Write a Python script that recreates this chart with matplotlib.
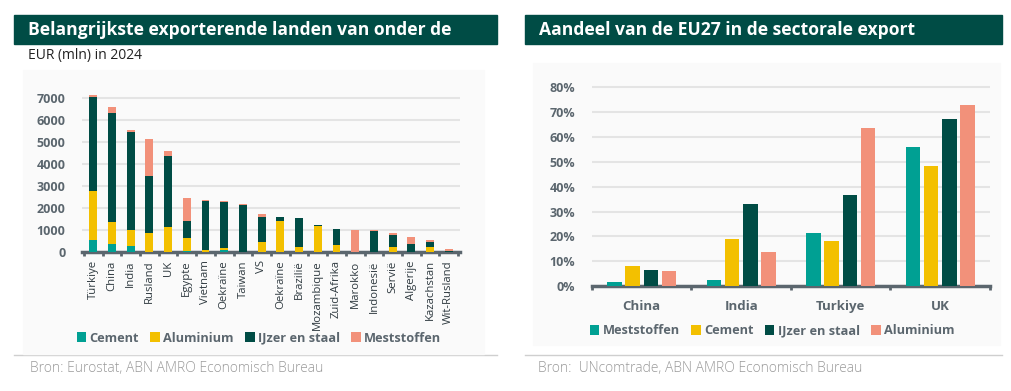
import numpy as np
import matplotlib.pyplot as plt
from matplotlib.patches import Rectangle
from matplotlib.lines import Line2D

# Left chart: export by country, EUR mln 2024
landen = ['Türkiye', 'China', 'India', 'Rusland', 'UK', 'Egypte', 'Vietnam',
          'Oekraïne', 'Taiwan', 'VS', 'Oekraïne', 'Brazilië', 'Mozambique',
          'Zuid-Afrika', 'Marokko', 'Indonesië', 'Servië', 'Algerije',
          'Kazachstan', 'Wit-Rusland']
cement = [550, 350, 250, 20, 20, 30, 0, 80, 0, 20, 0, 20, 0, 20, 0, 0, 20, 20, 20, 0]
aluminium = [2200, 1020, 750, 830, 1100, 610, 80, 100, 0, 450, 1400, 200, 1180, 280, 0, 0, 190, 0, 220, 0]
ijzer = [4300, 4950, 4470, 2600, 3250, 770, 2250, 2100, 2150, 1100, 180, 1320, 30, 730, 0, 960, 560, 330, 230, 50]
meststoffen = [100, 250, 50, 1680, 200, 1030, 30, 30, 20, 170, 20, 20, 0, 20, 1000, 20, 110, 320, 70, 80]

# Right chart: share of EU27 in sector exports
landen2 = ['China', 'India', 'Turkiye', 'UK']
sectoren2 = ['Meststoffen', 'Cement', 'IJzer en staal', 'Aluminium']
aandeel = {
    'Meststoffen': [0.017, 0.023, 0.214, 0.562],
    'Cement': [0.080, 0.190, 0.180, 0.485],
    'IJzer en staal': [0.063, 0.330, 0.367, 0.672],
    'Aluminium': [0.062, 0.138, 0.638, 0.731],
}

TEAL = '#00a093'
YELLOW = '#f3c000'
DARK = '#004c45'
SALMON = '#f2917a'
GREY = '#5b666e'
GRID = '#e4e4e4'
BG = '#fafafa'

plt.rcParams['font.family'] = ['Open Sans', 'DejaVu Sans']

W, H = 1012, 391
fig = plt.figure(figsize=(W / 100, H / 100), dpi=100)


def fx(px):
    return px / W


def fy(py):
    return 1 - py / H


# title bars, background panels, footer lines
for x0, x1, title in [(14, 497, 'Belangrijkste exporterende landen van onder de'),
                      (525, 1002, 'Aandeel van de EU27 in de sectorale export')]:
    fig.patches.append(Rectangle((fx(x0), fy(44)), fx(x1 - x0), 29 / H,
                                 transform=fig.transFigure, color=DARK, zorder=-2))
    fig.text(fx(x0 + 14), fy(30), title, color='white', fontsize=12.6,
             fontweight='bold', va='center', ha='left')
    fig.lines.append(Line2D([fx(x0), fx(x1)], [fy(355), fy(355)],
                            transform=fig.transFigure, color='#cfcfcf', lw=1, zorder=-2))

fig.patches.append(Rectangle((fx(23), fy(354)), fx(461), 284 / H,
                             transform=fig.transFigure, color=BG, zorder=-2))
fig.patches.append(Rectangle((fx(533), fy(345)), fx(467), 282 / H,
                             transform=fig.transFigure, color=BG, zorder=-2))

fig.text(fx(28), fy(56), 'EUR (mln) in 2024', fontsize=10, color='#222222',
         va='center', ha='left')
fig.text(fx(30), fy(369), 'Bron: Eurostat, ABN AMRO Economisch Bureau',
         fontsize=10, color='#9a9a9a', va='center', ha='left', fontweight='light')
fig.text(fx(538), fy(369), 'Bron:  UNcomtrade, ABN AMRO Economisch Bureau',
         fontsize=10, color='#9a9a9a', va='center', ha='left', fontweight='light')

legend_kw = dict(ncol=4, frameon=False, handlelength=0.75, handleheight=0.75,
                 handletextpad=0.25, columnspacing=0.9,
                 prop={'size': 9.2, 'weight': 'bold'}, labelcolor=GREY)

# ---- left chart ----
ax1 = fig.add_axes([fx(82), fy(252), fx(378), (252 - 88) / H])
ax1.set_facecolor('none')
x = np.arange(len(landen))
w = 0.42
bottom = np.zeros(len(landen))
for vals, col, lab in [(cement, TEAL, 'Cement'), (aluminium, YELLOW, 'Aluminium'),
                       (ijzer, DARK, 'IJzer en staal'), (meststoffen, SALMON, 'Meststoffen')]:
    ax1.bar(x, vals, w, bottom=bottom, color=col, label=lab, zorder=3)
    bottom += np.array(vals)
ax1.set_ylim(0, 7450)
ax1.set_xlim(-0.6, len(landen) - 0.4)
ax1.set_yticks(range(0, 7001, 1000))
ax1.grid(axis='y', color=GRID, lw=1.5, zorder=0)
ax1.set_xticks(x)
ax1.set_xticklabels(landen, rotation=90, fontsize=8.2, color='#2f3a40')
ax1.set_xticks(np.arange(-0.5, len(landen)), minor=True)
ax1.tick_params(axis='x', which='major', length=0, pad=6)
ax1.tick_params(axis='x', which='minor', length=3, width=2, color=GREY)
ax1.tick_params(axis='y', length=0, labelsize=9, labelcolor=GREY, pad=12)
for lab in ax1.get_yticklabels():
    lab.set_fontweight('bold')
for s in ['top', 'right', 'left']:
    ax1.spines[s].set_visible(False)
ax1.spines['bottom'].set_color(GREY)
ax1.spines['bottom'].set_linewidth(2.5)
ax1.legend(loc='center', bbox_to_anchor=(fx(259), fy(338)), bbox_transform=fig.transFigure,
           **legend_kw)

# ---- right chart ----
ax2 = fig.add_axes([fx(592), fy(286), fx(398), (286 - 80) / H])
ax2.set_facecolor('none')
x2 = np.arange(len(landen2))
w2 = 0.146
cols2 = [TEAL, YELLOW, DARK, SALMON]
for i, (sec, col) in enumerate(zip(sectoren2, cols2)):
    ax2.bar(x2 + (i - 1.5) * 0.184, aandeel[sec], w2, color=col, label=sec, zorder=3)
ax2.set_ylim(0, 0.83)
ax2.set_xlim(-0.5, len(landen2) - 0.5)
ax2.set_yticks(np.arange(0, 0.81, 0.1))
ax2.set_yticklabels([f'{int(round(v * 100))}%' for v in np.arange(0, 0.81, 0.1)])
ax2.grid(axis='y', color=GRID, lw=1.5, zorder=0)
ax2.set_xticks(x2)
ax2.set_xticklabels(landen2, fontsize=9.5, color=GREY, fontweight='bold')
ax2.set_xticks(np.arange(-0.5, len(landen2)), minor=True)
ax2.tick_params(axis='x', which='major', length=0, pad=10)
ax2.tick_params(axis='x', which='minor', length=3, width=2, color=GREY)
ax2.tick_params(axis='y', length=0, labelsize=9, labelcolor=GREY, pad=12)
for lab in ax2.get_yticklabels():
    lab.set_fontweight('bold')
for s in ['top', 'right', 'left']:
    ax2.spines[s].set_visible(False)
ax2.spines['bottom'].set_color(GREY)
ax2.spines['bottom'].set_linewidth(2.5)
ax2.legend(loc='center', bbox_to_anchor=(fx(772), fy(331)), bbox_transform=fig.transFigure,
           **legend_kw)

fig.savefig('out.png', dpi=100, facecolor='white')
